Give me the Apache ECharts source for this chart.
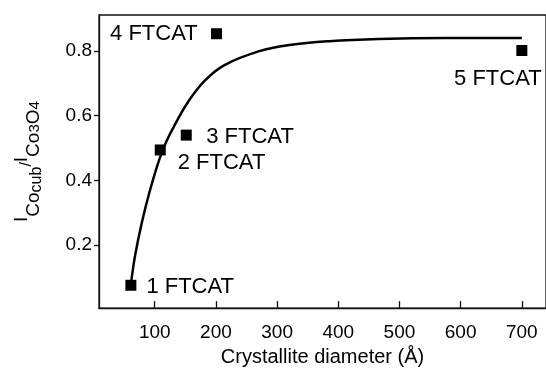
<!DOCTYPE html>
<html><head><meta charset="utf-8">
<script src="https://cdn.jsdelivr.net/npm/echarts@6/dist/echarts.min.js"></script>
<style>html,body{margin:0;padding:0;background:#fff}#c{width:546px;height:372px}</style>
</head><body><div id="c"></div>
<script>
// ---- data ----
const sampleNames = ['1 FTCAT', '2 FTCAT', '3 FTCAT', '4 FTCAT', '5 FTCAT'];
const sampleDiameter = [61, 109, 151.5, 201, 700];
const sampleRatio = [0.075, 0.494, 0.540, 0.854, 0.802];

const fitDiameter = [61, 67.5, 78.4, 91.9, 108.2, 119, 132.5, 154.2, 181.4, 214, 271, 320, 385, 466, 575, 700];
const fitRatio = [0.077, 0.163, 0.265, 0.367, 0.469, 0.520, 0.571, 0.642, 0.708, 0.757, 0.800, 0.819, 0.831, 0.838, 0.841, 0.841];

const xTicks = [100, 200, 300, 400, 500, 600, 700];
const yTicks = [0.2, 0.4, 0.6, 0.8];

// ---- label placement (styles) ----
const labelPlacement = [
  { position: 'right', offset: [10, 2] },
  { position: 'right', offset: [12, 13] },
  { position: 'right', offset: [14.5, 1.5] },
  { position: 'left', offset: [-13.4, 0] },
  { position: 'bottom', offset: [-24, 11.5] }
];

const FONT = 'Liberation Sans, Arial, Helvetica, sans-serif';

const scatterData = sampleNames.map((n, i) => ({
  name: n,
  value: [sampleDiameter[i], sampleRatio[i]],
  label: {
    show: true,
    formatter: n,
    position: labelPlacement[i].position,
    offset: labelPlacement[i].offset,
    distance: 0,
    fontSize: 22,
    fontFamily: FONT,
    color: '#000'
  }
}));
const lineData = fitDiameter.map((x, i) => [x, fitRatio[i]]);

const chart = echarts.init(document.getElementById('c'), null, { renderer: 'canvas' });
chart.setOption({
  animation: false,
  backgroundColor: '#fff',
  grid: {
    left: 99, right: -2, top: 15, bottom: 60,
    show: true, borderColor: '#111', borderWidth: 1.3, backgroundColor: 'transparent'
  },
  xAxis: {
    type: 'value',
    min: 8.9, max: 739.5,
    name: 'Crystallite diameter (Å)',
    nameLocation: 'middle',
    nameGap: 30,
    nameTextStyle: { fontSize: 20, fontFamily: FONT, color: '#000' },
    axisLine: { show: true, lineStyle: { color: '#111', width: 1.3 } },
    axisTick: { show: true, inside: true, length: 7, customValues: xTicks, lineStyle: { color: '#111', width: 1.3 } },
    axisLabel: { customValues: xTicks, fontSize: 19, fontFamily: FONT, color: '#000', margin: 15 },
    splitLine: { show: false }
  },
  yAxis: {
    type: 'value',
    min: 0.0043, max: 0.912,
    name: '{a|I}{b|Co}{c|cub}{d|/}{a|I}{b|Co}{e|3}{b|O}{e|4}',
    nameLocation: 'middle',
    nameRotate: 90,
    nameGap: 51,
    nameTextStyle: {
      fontFamily: FONT, color: '#000',
      rich: {
        a: { fontSize: 19, fontFamily: FONT, color: '#000', lineHeight: 40, verticalAlign: 'top', padding: [4.5, 0, 0, 0] },
        b: { fontSize: 19, fontFamily: FONT, color: '#000', lineHeight: 40, verticalAlign: 'top', padding: [15.9, 0, 0, 0] },
        c: { fontSize: 16, fontFamily: FONT, color: '#000', lineHeight: 40, verticalAlign: 'top', padding: [20.2, 0, 0, 0] },
        d: { fontSize: 16, fontFamily: FONT, color: '#000', lineHeight: 40, verticalAlign: 'top', padding: [10.5, 0, 0, 0] },
        e: { fontSize: 15, fontFamily: FONT, color: '#000', lineHeight: 40, verticalAlign: 'top', padding: [19.8, 0, 0, 0] }
      }
    },
    axisLine: { show: true, lineStyle: { color: '#111', width: 1.3 } },
    axisTick: { show: true, inside: false, length: 5, customValues: yTicks, lineStyle: { color: '#111', width: 1.3 } },
    axisLabel: { customValues: yTicks, fontSize: 19, fontFamily: FONT, color: '#000', margin: 7,
      formatter: v => Number(v).toFixed(1) },
    splitLine: { show: false }
  },
  series: [
    {
      type: 'line',
      data: lineData,
      smooth: 0.4,
      showSymbol: false,
      lineStyle: { color: '#000', width: 2.5 },
      z: 2
    },
    {
      type: 'scatter',
      data: scatterData,
      symbol: 'rect',
      symbolSize: 11,
      itemStyle: { color: '#000', opacity: 1 },
      emphasis: { disabled: true },
      z: 3
    }
  ]
});
</script>
</body></html>
